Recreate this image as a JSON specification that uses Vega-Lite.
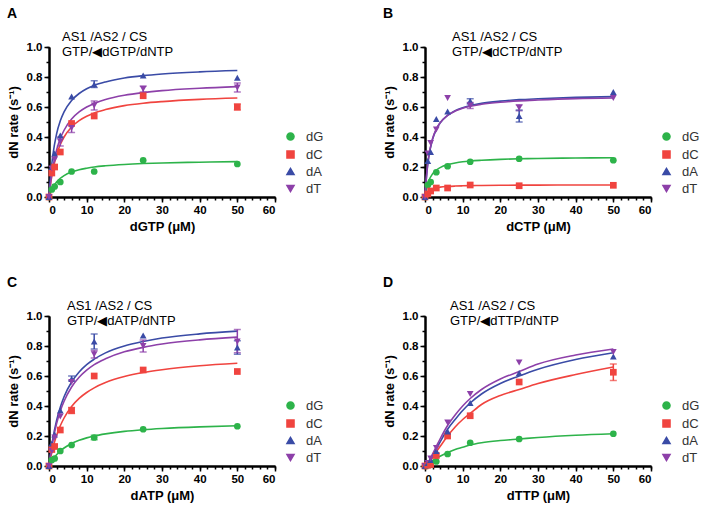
{
"$schema":"https://vega.github.io/schema/vega-lite/v6.json",
"padding":{"left":7,"top":7,"right":0,"bottom":0},
"background":"white",
"config":{"font":"Liberation Sans","view":{"stroke":null},
 "axis":{"domainColor":"black","domainWidth":2,"tickColor":"black","tickWidth":1.5,"labelFontWeight":"bold","labelFontSize":11.5,"labelColor":"black","titleFontSize":13,"titleFontWeight":"bold","titleColor":"black","grid":false},
 "legend":{"orient":"none","legendX":235,"legendY":83,"title":null,"labelFontSize":13,"labelColor":"#333","symbolSize":50,"labelOffset":9,"rowPadding":3,"symbolStrokeWidth":1.5,"symbolOpacity":1},
 "title":{"color":"black"}},
"datasets":{
"fit":[
{"p":"A","x":0,"dG":0,"dC":0,"dA":0,"dT":0},
{"p":"A","x":0.5,"dG":0.036,"dC":0.1,"dA":0.163,"dT":0.111},
{"p":"A","x":1,"dG":0.0625,"dC":0.175,"dA":0.275,"dT":0.195},
{"p":"A","x":2,"dG":0.1,"dC":0.28,"dA":0.419,"dT":0.312},
{"p":"A","x":3,"dG":0.125,"dC":0.35,"dA":0.508,"dT":0.39},
{"p":"A","x":4,"dG":0.143,"dC":0.4,"dA":0.568,"dT":0.445},
{"p":"A","x":6,"dG":0.167,"dC":0.467,"dA":0.644,"dT":0.52},
{"p":"A","x":8,"dG":0.182,"dC":0.509,"dA":0.69,"dT":0.567},
{"p":"A","x":10,"dG":0.192,"dC":0.538,"dA":0.722,"dT":0.6},
{"p":"A","x":12,"dG":0.2,"dC":0.56,"dA":0.744,"dT":0.624},
{"p":"A","x":15,"dG":0.208,"dC":0.583,"dA":0.767,"dT":0.65},
{"p":"A","x":20,"dG":0.217,"dC":0.609,"dA":0.793,"dT":0.678},
{"p":"A","x":25,"dG":0.223,"dC":0.625,"dA":0.809,"dT":0.696},
{"p":"A","x":30,"dG":0.227,"dC":0.636,"dA":0.82,"dT":0.709},
{"p":"A","x":40,"dG":0.232,"dC":0.651,"dA":0.834,"dT":0.725},
{"p":"A","x":50,"dG":0.236,"dC":0.66,"dA":0.843,"dT":0.736},
{"p":"B","x":0,"dG":0,"dC":0,"dA":0,"dT":0},
{"p":"B","x":0.5,"dG":0.0675,"dC":0.027,"dA":0.164,"dT":0.17},
{"p":"B","x":1,"dG":0.108,"dC":0.041,"dA":0.266,"dT":0.272},
{"p":"B","x":2,"dG":0.154,"dC":0.055,"dA":0.384,"dT":0.388},
{"p":"B","x":3,"dG":0.18,"dC":0.0615,"dA":0.45,"dT":0.454},
{"p":"B","x":4,"dG":0.196,"dC":0.0656,"dA":0.493,"dT":0.494},
{"p":"B","x":6,"dG":0.216,"dC":0.0703,"dA":0.544,"dT":0.544},
{"p":"B","x":8,"dG":0.227,"dC":0.0729,"dA":0.575,"dT":0.573},
{"p":"B","x":10,"dG":0.235,"dC":0.0745,"dA":0.595,"dT":0.592},
{"p":"B","x":12,"dG":0.24,"dC":0.0757,"dA":0.609,"dT":0.605},
{"p":"B","x":15,"dG":0.245,"dC":0.0769,"dA":0.624,"dT":0.618},
{"p":"B","x":20,"dG":0.251,"dC":0.0781,"dA":0.639,"dT":0.632},
{"p":"B","x":25,"dG":0.255,"dC":0.0789,"dA":0.649,"dT":0.641},
{"p":"B","x":30,"dG":0.257,"dC":0.0794,"dA":0.655,"dT":0.647},
{"p":"B","x":40,"dG":0.26,"dC":0.08,"dA":0.664,"dT":0.656},
{"p":"B","x":50,"dG":0.262,"dC":0.0804,"dA":0.669,"dT":0.66},
{"p":"C","x":0,"dG":0,"dC":0,"dA":0,"dT":0},
{"p":"C","x":0.5,"dG":0.023,"dC":0.063,"dA":0.098,"dT":0.09},
{"p":"C","x":1,"dG":0.043,"dC":0.117,"dA":0.178,"dT":0.1645},
{"p":"C","x":2,"dG":0.075,"dC":0.203,"dA":0.302,"dT":0.281},
{"p":"C","x":3,"dG":0.1,"dC":0.268,"dA":0.392,"dT":0.367},
{"p":"C","x":4,"dG":0.12,"dC":0.32,"dA":0.462,"dT":0.432},
{"p":"C","x":6,"dG":0.15,"dC":0.397,"dA":0.56,"dT":0.527},
{"p":"C","x":8,"dG":0.171,"dC":0.451,"dA":0.627,"dT":0.592},
{"p":"C","x":10,"dG":0.1875,"dC":0.49,"dA":0.676,"dT":0.639},
{"p":"C","x":12,"dG":0.2,"dC":0.521,"dA":0.712,"dT":0.676},
{"p":"C","x":15,"dG":0.214,"dC":0.556,"dA":0.754,"dT":0.715},
{"p":"C","x":20,"dG":0.231,"dC":0.596,"dA":0.8,"dT":0.761},
{"p":"C","x":25,"dG":0.242,"dC":0.623,"dA":0.83,"dT":0.791},
{"p":"C","x":30,"dG":0.25,"dC":0.642,"dA":0.853,"dT":0.813},
{"p":"C","x":40,"dG":0.261,"dC":0.668,"dA":0.881,"dT":0.841},
{"p":"C","x":50,"dG":0.268,"dC":0.685,"dA":0.899,"dT":0.859},
{"p":"D","x":0,"dG":0,"dC":0,"dA":0,"dT":0},
{"p":"D","x":0.5,"dG":0.006,"dC":0.008,"dA":0.01,"dT":0.01},
{"p":"D","x":1,"dG":0.015,"dC":0.02,"dA":0.025,"dT":0.03},
{"p":"D","x":2,"dG":0.035,"dC":0.055,"dA":0.07,"dT":0.08},
{"p":"D","x":3,"dG":0.05,"dC":0.095,"dA":0.115,"dT":0.13},
{"p":"D","x":4,"dG":0.065,"dC":0.13,"dA":0.16,"dT":0.18},
{"p":"D","x":6,"dG":0.09,"dC":0.2,"dA":0.245,"dT":0.27},
{"p":"D","x":8,"dG":0.11,"dC":0.26,"dA":0.31,"dT":0.34},
{"p":"D","x":10,"dG":0.125,"dC":0.31,"dA":0.37,"dT":0.4},
{"p":"D","x":12,"dG":0.14,"dC":0.35,"dA":0.42,"dT":0.45},
{"p":"D","x":15,"dG":0.155,"dC":0.41,"dA":0.48,"dT":0.51},
{"p":"D","x":20,"dG":0.17,"dC":0.47,"dA":0.55,"dT":0.58},
{"p":"D","x":25,"dG":0.18,"dC":0.51,"dA":0.6,"dT":0.63},
{"p":"D","x":30,"dG":0.19,"dC":0.55,"dA":0.645,"dT":0.68},
{"p":"D","x":40,"dG":0.205,"dC":0.61,"dA":0.71,"dT":0.74},
{"p":"D","x":50,"dG":0.215,"dC":0.66,"dA":0.755,"dT":0.78}
],
"pts":[
{"p":"A","x":0,"dG":0,"dC":0,"dA":0,"dT":0},
{"p":"A","x":0.75,"dG":0.05,"dC":0.16,"dA":0.2,"dT":0.19},
{"p":"A","x":1.5,"dG":0.07,"dC":0.2,"dA":0.29,"dT":0.25},
{"p":"A","x":3,"dG":0.1,"dC":0.3,"dA":0.41,"dT":0.37},
{"p":"A","x":6,"dG":0.17,"dC":0.49,"dA":0.67,"dT":0.46},
{"p":"A","x":12,"dG":0.17,"dC":0.54,"dA":0.75,"dT":0.61},
{"p":"A","x":25,"dG":0.245,"dC":0.675,"dA":0.81,"dT":0.72},
{"p":"A","x":50,"dG":0.22,"dC":0.6,"dA":0.795,"dT":0.73},
{"p":"B","x":0,"dG":0,"dC":0,"dA":0,"dT":0},
{"p":"B","x":0.75,"dG":0.08,"dC":0.02,"dA":0.24,"dT":0.29},
{"p":"B","x":1.5,"dG":0.1,"dC":0.04,"dA":0.3,"dT":0.36},
{"p":"B","x":3,"dG":0.165,"dC":0.06,"dA":0.52,"dT":0.45},
{"p":"B","x":6,"dG":0.205,"dC":0.06,"dA":0.57,"dT":0.66},
{"p":"B","x":12,"dG":0.235,"dC":0.08,"dA":0.64,"dT":0.61},
{"p":"B","x":25,"dG":0.255,"dC":0.075,"dA":0.54,"dT":0.595},
{"p":"B","x":50,"dG":0.245,"dC":0.078,"dA":0.7,"dT":0.66},
{"p":"C","x":0,"dG":0,"dC":0,"dA":0,"dT":0},
{"p":"C","x":0.75,"dG":0.04,"dC":0.11,"dA":0.15,"dT":0.1},
{"p":"C","x":1.5,"dG":0.05,"dC":0.13,"dA":0.21,"dT":0.19},
{"p":"C","x":3,"dG":0.1,"dC":0.24,"dA":0.37,"dT":0.33},
{"p":"C","x":6,"dG":0.14,"dC":0.37,"dA":0.58,"dT":0.56},
{"p":"C","x":12,"dG":0.19,"dC":0.6,"dA":0.83,"dT":0.745},
{"p":"C","x":25,"dG":0.245,"dC":0.64,"dA":0.87,"dT":0.8},
{"p":"C","x":50,"dG":0.265,"dC":0.63,"dA":0.79,"dT":0.83},
{"p":"D","x":0,"dG":0,"dC":0,"dA":0,"dT":0},
{"p":"D","x":0.75,"dG":0.005,"dC":0.005,"dA":0.02,"dT":0.02},
{"p":"D","x":1.5,"dG":0.01,"dC":0.01,"dA":0.04,"dT":0.05},
{"p":"D","x":3,"dG":0.03,"dC":0.07,"dA":0.1,"dT":0.12},
{"p":"D","x":6,"dG":0.08,"dC":0.2,"dA":0.23,"dT":0.29},
{"p":"D","x":12,"dG":0.155,"dC":0.335,"dA":0.42,"dT":0.48},
{"p":"D","x":25,"dG":0.18,"dC":0.56,"dA":0.62,"dT":0.69},
{"p":"D","x":50,"dG":0.215,"dC":0.625,"dA":0.73,"dT":0.76}
],
"err":[
{"p":"A","s":"dT","x":3,"lo":0.34,"hi":0.4},
{"p":"A","s":"dT","x":6,"lo":0.43,"hi":0.49},
{"p":"A","s":"dT","x":12,"lo":0.58,"hi":0.64},
{"p":"A","s":"dT","x":25,"lo":0.7,"hi":0.74},
{"p":"A","s":"dT","x":50,"lo":0.7,"hi":0.76},
{"p":"A","s":"dA","x":12,"lo":0.73,"hi":0.775},
{"p":"A","s":"dC","x":50,"lo":0.58,"hi":0.62},
{"p":"B","s":"dA","x":25,"lo":0.5,"hi":0.58},
{"p":"B","s":"dT","x":25,"lo":0.575,"hi":0.615},
{"p":"B","s":"dT","x":12,"lo":0.59,"hi":0.63},
{"p":"B","s":"dA","x":12,"lo":0.62,"hi":0.655},
{"p":"C","s":"dA","x":12,"lo":0.78,"hi":0.88},
{"p":"C","s":"dA","x":50,"lo":0.745,"hi":0.835},
{"p":"C","s":"dT","x":50,"lo":0.755,"hi":0.91},
{"p":"C","s":"dT","x":25,"lo":0.76,"hi":0.84},
{"p":"C","s":"dT","x":12,"lo":0.72,"hi":0.77},
{"p":"C","s":"dA","x":6,"lo":0.57,"hi":0.6},
{"p":"C","s":"dC","x":6,"lo":0.35,"hi":0.39},
{"p":"C","s":"dG","x":12,"lo":0.175,"hi":0.205},
{"p":"D","s":"dC","x":50,"lo":0.57,"hi":0.68}
]
},
"resolve":{"scale":{"color":"independent","shape":"independent"},"legend":{"color":"independent","shape":"independent"}},
"spacing":42,
"vconcat":[
{"spacing":59,
 "resolve":{"scale":{"color":"independent","shape":"independent"},"legend":{"color":"independent","shape":"independent"}},
 "hconcat":[
 {"title":{"text":"A","anchor":"start","frame":"bounds","fontSize":14,"fontWeight":"bold","offset":10},
  "spacing":0,
  "resolve":{"scale":{"color":"independent","shape":"independent"},"legend":{"color":"independent","shape":"independent"}},
  "vconcat":[{
   "width":226,"height":150,
   "title":{"text":["AS1 /AS2 / CS","GTP/◀dGTP/dNTP"],"anchor":"start","frame":"group","dx":13,"offset":-18,"fontSize":13,"fontWeight":"normal","lineHeight":15},
   "resolve":{"axis":{"x":"independent","y":"independent"}},
   "layer":[
    {"data":{"name":"fit"},"transform":[{"filter":"datum.p==='A'"},{"fold":["dG","dC","dA","dT"],"as":["s","y"]}],
     "mark":{"type":"line","interpolate":"monotone","strokeWidth":1.6},
     "encoding":{
      "x":{"field":"x","type":"quantitative","scale":{"domain":[0,60],"nice":false},"axis":{"orient":"bottom","values":[0,2,4,6,8,10,12,14,16,18,20,22,24,26,28,30,32,34,36,38,40,42,44,46,48,50,52,54,56,58,60],"labels":false,"tickSize":3,"title":null}},
      "y":{"field":"y","type":"quantitative","scale":{"domain":[0,1],"nice":false},"axis":{"orient":"left","values":[0,0.1,0.2,0.3,0.4,0.5,0.6,0.7,0.8,0.9,1],"labels":false,"tickSize":3,"title":null}},
      "color":{"field":"s","type":"nominal","scale":{"domain":["dG","dC","dA","dT"],"range":["#2db34a","#f0443f","#3a4ba6","#8d40a9"]}}}},
    {"data":{"name":"err"},"transform":[{"filter":"datum.p==='A'"}],
     "mark":{"type":"errorbar","ticks":{"size":7,"thickness":1.5},"thickness":1.5},
     "encoding":{
      "x":{"field":"x","type":"quantitative","axis":null},
      "y":{"field":"lo","type":"quantitative","axis":null},
      "y2":{"field":"hi"},
      "color":{"field":"s","type":"nominal"}}},
    {"data":{"name":"pts"},"transform":[{"filter":"datum.p==='A'"},{"fold":["dG","dC","dA","dT"],"as":["s","y"]}],
     "mark":{"type":"point","filled":true,"size":45,"opacity":1},
     "encoding":{
      "x":{"field":"x","type":"quantitative","axis":{"orient":"bottom","values":[0,10,20,30,40,50,60],"tickSize":5,"labelPadding":2,"title":"dGTP (μM)","titlePadding":5}},
      "y":{"field":"y","type":"quantitative","axis":{"orient":"left","values":[0,0.2,0.4,0.6,0.8,1],"format":".1f","tickSize":5,"title":"dN rate (s⁻¹)","titlePadding":6}},
      "color":{"field":"s","type":"nominal","scale":{"domain":["dG","dC","dA","dT"],"range":["#2db34a","#f0443f","#3a4ba6","#8d40a9"]}},
      "shape":{"field":"s","type":"nominal","scale":{"domain":["dG","dC","dA","dT"],"range":["circle","square","triangle-up","triangle-down"]}}}}
   ]}]},
 {"title":{"text":"B","anchor":"start","frame":"bounds","fontSize":14,"fontWeight":"bold","offset":10},
  "spacing":0,
  "resolve":{"scale":{"color":"independent","shape":"independent"},"legend":{"color":"independent","shape":"independent"}},
  "vconcat":[{
   "width":226,"height":150,
   "title":{"text":["AS1 /AS2 / CS","GTP/◀dCTP/dNTP"],"anchor":"start","frame":"group","dx":27,"offset":-18,"fontSize":13,"fontWeight":"normal","lineHeight":15},
   "resolve":{"axis":{"x":"independent","y":"independent"}},
   "layer":[
    {"data":{"name":"fit"},"transform":[{"filter":"datum.p==='B'"},{"fold":["dG","dC","dA","dT"],"as":["s","y"]}],
     "mark":{"type":"line","interpolate":"monotone","strokeWidth":1.6},
     "encoding":{
      "x":{"field":"x","type":"quantitative","scale":{"domain":[0,60],"nice":false},"axis":{"orient":"bottom","values":[0,2,4,6,8,10,12,14,16,18,20,22,24,26,28,30,32,34,36,38,40,42,44,46,48,50,52,54,56,58,60],"labels":false,"tickSize":3,"title":null}},
      "y":{"field":"y","type":"quantitative","scale":{"domain":[0,1],"nice":false},"axis":{"orient":"left","values":[0,0.1,0.2,0.3,0.4,0.5,0.6,0.7,0.8,0.9,1],"labels":false,"tickSize":3,"title":null}},
      "color":{"field":"s","type":"nominal","scale":{"domain":["dG","dC","dA","dT"],"range":["#2db34a","#f0443f","#3a4ba6","#8d40a9"]}}}},
    {"data":{"name":"err"},"transform":[{"filter":"datum.p==='B'"}],
     "mark":{"type":"errorbar","ticks":{"size":7,"thickness":1.5},"thickness":1.5},
     "encoding":{
      "x":{"field":"x","type":"quantitative","axis":null},
      "y":{"field":"lo","type":"quantitative","axis":null},
      "y2":{"field":"hi"},
      "color":{"field":"s","type":"nominal"}}},
    {"data":{"name":"pts"},"transform":[{"filter":"datum.p==='B'"},{"fold":["dG","dC","dA","dT"],"as":["s","y"]}],
     "mark":{"type":"point","filled":true,"size":45,"opacity":1},
     "encoding":{
      "x":{"field":"x","type":"quantitative","axis":{"orient":"bottom","values":[0,10,20,30,40,50,60],"tickSize":5,"labelPadding":2,"title":"dCTP (μM)","titlePadding":5}},
      "y":{"field":"y","type":"quantitative","axis":{"orient":"left","values":[0,0.2,0.4,0.6,0.8,1],"format":".1f","tickSize":5,"title":"dN rate (s⁻¹)","titlePadding":6}},
      "color":{"field":"s","type":"nominal","scale":{"domain":["dG","dC","dA","dT"],"range":["#2db34a","#f0443f","#3a4ba6","#8d40a9"]}},
      "shape":{"field":"s","type":"nominal","scale":{"domain":["dG","dC","dA","dT"],"range":["circle","square","triangle-up","triangle-down"]}}}}
   ]}]}
 ]},
{"spacing":59,
 "resolve":{"scale":{"color":"independent","shape":"independent"},"legend":{"color":"independent","shape":"independent"}},
 "hconcat":[
 {"title":{"text":"C","anchor":"start","frame":"bounds","fontSize":14,"fontWeight":"bold","offset":10},
  "spacing":0,
  "resolve":{"scale":{"color":"independent","shape":"independent"},"legend":{"color":"independent","shape":"independent"}},
  "vconcat":[{
   "width":226,"height":150,
   "title":{"text":["AS1 /AS2 / CS","GTP/◀dATP/dNTP"],"anchor":"start","frame":"group","dx":18,"offset":-18,"fontSize":13,"fontWeight":"normal","lineHeight":15},
   "resolve":{"axis":{"x":"independent","y":"independent"}},
   "layer":[
    {"data":{"name":"fit"},"transform":[{"filter":"datum.p==='C'"},{"fold":["dG","dC","dA","dT"],"as":["s","y"]}],
     "mark":{"type":"line","interpolate":"monotone","strokeWidth":1.6},
     "encoding":{
      "x":{"field":"x","type":"quantitative","scale":{"domain":[0,60],"nice":false},"axis":{"orient":"bottom","values":[0,2,4,6,8,10,12,14,16,18,20,22,24,26,28,30,32,34,36,38,40,42,44,46,48,50,52,54,56,58,60],"labels":false,"tickSize":3,"title":null}},
      "y":{"field":"y","type":"quantitative","scale":{"domain":[0,1],"nice":false},"axis":{"orient":"left","values":[0,0.1,0.2,0.3,0.4,0.5,0.6,0.7,0.8,0.9,1],"labels":false,"tickSize":3,"title":null}},
      "color":{"field":"s","type":"nominal","scale":{"domain":["dG","dC","dA","dT"],"range":["#2db34a","#f0443f","#3a4ba6","#8d40a9"]}}}},
    {"data":{"name":"err"},"transform":[{"filter":"datum.p==='C'"}],
     "mark":{"type":"errorbar","ticks":{"size":7,"thickness":1.5},"thickness":1.5},
     "encoding":{
      "x":{"field":"x","type":"quantitative","axis":null},
      "y":{"field":"lo","type":"quantitative","axis":null},
      "y2":{"field":"hi"},
      "color":{"field":"s","type":"nominal"}}},
    {"data":{"name":"pts"},"transform":[{"filter":"datum.p==='C'"},{"fold":["dG","dC","dA","dT"],"as":["s","y"]}],
     "mark":{"type":"point","filled":true,"size":45,"opacity":1},
     "encoding":{
      "x":{"field":"x","type":"quantitative","axis":{"orient":"bottom","values":[0,10,20,30,40,50,60],"tickSize":5,"labelPadding":2,"title":"dATP (μM)","titlePadding":5}},
      "y":{"field":"y","type":"quantitative","axis":{"orient":"left","values":[0,0.2,0.4,0.6,0.8,1],"format":".1f","tickSize":5,"title":"dN rate (s⁻¹)","titlePadding":6}},
      "color":{"field":"s","type":"nominal","scale":{"domain":["dG","dC","dA","dT"],"range":["#2db34a","#f0443f","#3a4ba6","#8d40a9"]}},
      "shape":{"field":"s","type":"nominal","scale":{"domain":["dG","dC","dA","dT"],"range":["circle","square","triangle-up","triangle-down"]}}}}
   ]}]},
 {"title":{"text":"D","anchor":"start","frame":"bounds","fontSize":14,"fontWeight":"bold","offset":10},
  "spacing":0,
  "resolve":{"scale":{"color":"independent","shape":"independent"},"legend":{"color":"independent","shape":"independent"}},
  "vconcat":[{
   "width":226,"height":150,
   "title":{"text":["AS1 /AS2 / CS","GTP/◀dTTP/dNTP"],"anchor":"start","frame":"group","dx":25,"offset":-18,"fontSize":13,"fontWeight":"normal","lineHeight":15},
   "resolve":{"axis":{"x":"independent","y":"independent"}},
   "layer":[
    {"data":{"name":"fit"},"transform":[{"filter":"datum.p==='D'"},{"fold":["dG","dC","dA","dT"],"as":["s","y"]}],
     "mark":{"type":"line","interpolate":"monotone","strokeWidth":1.6},
     "encoding":{
      "x":{"field":"x","type":"quantitative","scale":{"domain":[0,60],"nice":false},"axis":{"orient":"bottom","values":[0,2,4,6,8,10,12,14,16,18,20,22,24,26,28,30,32,34,36,38,40,42,44,46,48,50,52,54,56,58,60],"labels":false,"tickSize":3,"title":null}},
      "y":{"field":"y","type":"quantitative","scale":{"domain":[0,1],"nice":false},"axis":{"orient":"left","values":[0,0.1,0.2,0.3,0.4,0.5,0.6,0.7,0.8,0.9,1],"labels":false,"tickSize":3,"title":null}},
      "color":{"field":"s","type":"nominal","scale":{"domain":["dG","dC","dA","dT"],"range":["#2db34a","#f0443f","#3a4ba6","#8d40a9"]}}}},
    {"data":{"name":"err"},"transform":[{"filter":"datum.p==='D'"}],
     "mark":{"type":"errorbar","ticks":{"size":7,"thickness":1.5},"thickness":1.5},
     "encoding":{
      "x":{"field":"x","type":"quantitative","axis":null},
      "y":{"field":"lo","type":"quantitative","axis":null},
      "y2":{"field":"hi"},
      "color":{"field":"s","type":"nominal"}}},
    {"data":{"name":"pts"},"transform":[{"filter":"datum.p==='D'"},{"fold":["dG","dC","dA","dT"],"as":["s","y"]}],
     "mark":{"type":"point","filled":true,"size":45,"opacity":1},
     "encoding":{
      "x":{"field":"x","type":"quantitative","axis":{"orient":"bottom","values":[0,10,20,30,40,50,60],"tickSize":5,"labelPadding":2,"title":"dTTP (μM)","titlePadding":5}},
      "y":{"field":"y","type":"quantitative","axis":{"orient":"left","values":[0,0.2,0.4,0.6,0.8,1],"format":".1f","tickSize":5,"title":"dN rate (s⁻¹)","titlePadding":6}},
      "color":{"field":"s","type":"nominal","scale":{"domain":["dG","dC","dA","dT"],"range":["#2db34a","#f0443f","#3a4ba6","#8d40a9"]}},
      "shape":{"field":"s","type":"nominal","scale":{"domain":["dG","dC","dA","dT"],"range":["circle","square","triangle-up","triangle-down"]}}}}
   ]}]}
 ]}
]
}
